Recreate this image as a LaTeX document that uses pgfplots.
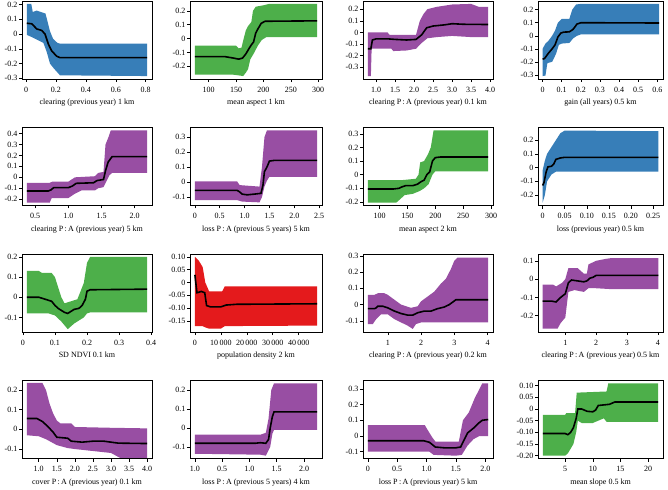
\documentclass[border=0pt]{standalone}
\usepackage{fontspec}
\setmainfont{Liberation Serif}
\usepackage{pgfplots}
\pgfplotsset{compat=1.18}
\usepgfplotslibrary{fillbetween}

\definecolor{cblue}{HTML}{377EB8}
\definecolor{cgreen}{HTML}{4DAF4A}
\definecolor{cpurple}{HTML}{984EA3}
\definecolor{cred}{HTML}{E41A1C}

\pgfplotsset{
  pd/.style={
    scale only axis, height=78pt, anchor=north west,
    axis on top, axis line style={line width=0.8pt},
    tick align=outside, xtick pos=left, ytick pos=left,
    major tick length=3pt, tick style={black,line width=0.5pt},
    scaled ticks=false,
    /pgf/number format/assume math mode=true,
    ticklabel style={font=\fontsize{8}{9}\selectfont},
    yticklabel style={inner sep=1.5pt},
    xticklabel style={yshift=-1.5pt},
    label style={font=\fontsize{8}{9}\selectfont},
    xlabel style={yshift=0pt},
  },
  c1/.style={pd, width=130pt},
  c2/.style={pd, width=132pt},
  c3/.style={pd, width=130pt},
  c4/.style={pd, width=125pt},
  pdline/.style={black, line width=1.6pt},
}

\begin{document}
\begin{tikzpicture}

% ---------- row 1 ----------
\begin{axis}[c1, at={(22pt,483pt)},
  xmin=-0.027, xmax=0.842, ymin=-0.305, ymax=0.225,
  xtick={0,0.2,0.4,0.6,0.8}, ytick={-0.3,-0.2,-0.1,0,0.1,0.2},
  xlabel={clearing (previous year) 1 km}]
\addplot[name path=u, draw=none] coordinates {(0.005,0.205)(0.035,0.205)(0.045,0.15)(0.07,0.16)(0.1,0.15)(0.13,0.14)(0.145,0.08)(0.16,0.02)(0.18,-0.03)(0.21,-0.06)(0.23,-0.065)(0.81,-0.065)};
\addplot[name path=l, draw=none] coordinates {(0.005,-0.005)(0.038,-0.02)(0.116,-0.06)(0.138,-0.12)(0.16,-0.2)(0.183,-0.23)(0.227,-0.28)(0.81,-0.285)};
\addplot[cblue] fill between[of=u and l];
\addplot[pdline] coordinates {(0.005,0.074)(0.038,0.07)(0.072,0.035)(0.105,0.025)(0.127,0.0)(0.15,-0.07)(0.172,-0.115)(0.205,-0.15)(0.227,-0.16)(0.81,-0.16)};
\end{axis}

\begin{axis}[c2, at={(190pt,483pt)},
  xmin=66, xmax=307, ymin=-0.291, ymax=0.271,
  xtick={100,150,200,250,300}, ytick={-0.2,-0.1,0,0.1,0.2},
  xlabel={mean aspect 1 km}]
\addplot[name path=u, draw=none] coordinates {(75,-0.05)(150,-0.05)(155,-0.07)(160,-0.065)(164,0.0)(168,0.06)(172,0.09)(178,0.12)(181,0.2)(186,0.23)(200,0.24)(210,0.25)(298,0.25)};
\addplot[name path=l, draw=none] coordinates {(75,-0.26)(145,-0.26)(155,-0.265)(163,-0.27)(168,-0.245)(172,-0.22)(176,-0.15)(182,-0.11)(190,-0.05)(197,-0.01)(205,0.01)(298,0.01)};
\addplot[cgreen] fill between[of=u and l];
\addplot[pdline] coordinates {(75,-0.13)(130,-0.13)(145,-0.14)(155,-0.148)(162,-0.14)(168,-0.11)(174,-0.07)(178,-0.045)(182,-0.025)(186,0.04)(190,0.07)(196,0.11)(203,0.125)(298,0.128)};
\end{axis}

\begin{axis}[c3, at={(363pt,483pt)},
  xmin=0.653, xmax=4.077, ymin=-0.40, ymax=0.27,
  xtick={1,1.5,2,2.5,3,3.5,4}, xticklabels={1.0,1.5,2.0,2.5,3.0,3.5,4.0},
  ytick={-0.3,-0.2,-0.1,0,0.1,0.2},
  xlabel={clearing P\,:\,A (previous year) 0.1 km}]
\addplot[name path=u, draw=none] coordinates {(0.78,0.0)(1.3,0.0)(1.35,-0.02)(2.05,-0.02)(2.15,0.1)(2.25,0.16)(2.35,0.2)(2.6,0.22)(3.0,0.24)(3.5,0.245)(3.7,0.22)(3.95,0.22)};
\addplot[name path=l, draw=none] coordinates {(0.78,-0.375)(0.86,-0.375)(0.88,-0.14)(1.4,-0.14)(1.45,-0.16)(1.8,-0.155)(2.05,-0.14)(2.2,-0.09)(2.35,-0.05)(2.6,-0.04)(3.0,-0.03)(3.5,-0.04)(3.95,-0.04)};
\addplot[cpurple] fill between[of=u and l];
\addplot[pdline] coordinates {(0.78,-0.14)(0.86,-0.14)(0.9,-0.065)(1.0,-0.055)(1.3,-0.055)(1.5,-0.06)(1.8,-0.065)(2.05,-0.06)(2.2,-0.02)(2.33,0.04)(2.5,0.055)(2.8,0.065)(3.0,0.075)(3.3,0.07)(3.95,0.068)};
\end{axis}

\begin{axis}[c4, at={(538pt,483pt)},
  xmin=-0.024, xmax=0.63, ymin=-0.332, ymax=0.267,
  xtick={0,0.1,0.2,0.3,0.4,0.5,0.6}, ytick={-0.3,-0.2,-0.1,0,0.1,0.2},
  xlabel={gain (all years) 0.5 km}]
\addplot[name path=u, draw=none] coordinates {(0,-0.1)(0.015,-0.06)(0.03,-0.04)(0.05,0.0)(0.065,0.04)(0.08,0.1)(0.1,0.13)(0.14,0.13)(0.155,0.2)(0.175,0.24)(0.2,0.245)(0.61,0.245)};
\addplot[name path=l, draw=none] coordinates {(0,-0.31)(0.015,-0.305)(0.025,-0.21)(0.05,-0.2)(0.07,-0.14)(0.085,-0.07)(0.1,-0.06)(0.14,-0.055)(0.16,-0.02)(0.18,0.0)(0.2,0.01)(0.61,0.01)};
\addplot[cblue] fill between[of=u and l];
\addplot[pdline] coordinates {(0,-0.18)(0.01,-0.175)(0.03,-0.135)(0.05,-0.1)(0.065,-0.07)(0.08,-0.01)(0.095,0.02)(0.11,0.028)(0.14,0.03)(0.16,0.05)(0.18,0.09)(0.2,0.1)(0.25,0.1)(0.61,0.098)};
\end{axis}

% ---------- row 2 ----------
\begin{axis}[c1, at={(22pt,356.5pt)},
  xmin=0.303, xmax=2.26, ymin=-0.258, ymax=0.456,
  xtick={0.5,1,1.5,2}, xticklabels={0.5,1.0,1.5,2.0},
  ytick={-0.2,-0.1,0,0.1,0.2,0.3,0.4},
  xlabel={clearing P\,:\,A (previous year) 5 km}]
\addplot[name path=u, draw=none] coordinates {(0.375,-0.05)(0.72,-0.05)(0.76,-0.04)(1.0,-0.04)(1.05,-0.02)(1.1,0.0)(1.4,0.01)(1.45,0.04)(1.53,0.05)(1.56,0.3)(1.6,0.36)(1.64,0.43)(2.187,0.43)};
\addplot[name path=l, draw=none] coordinates {(0.375,-0.232)(0.72,-0.232)(0.75,-0.19)(1.0,-0.19)(1.1,-0.15)(1.2,-0.12)(1.4,-0.12)(1.45,-0.1)(1.53,-0.09)(1.57,-0.04)(1.62,0.02)(1.66,0.04)(2.187,0.04)};
\addplot[cpurple] fill between[of=u and l];
\addplot[pdline] coordinates {(0.375,-0.125)(0.7,-0.125)(0.74,-0.115)(0.78,-0.095)(1.0,-0.095)(1.06,-0.08)(1.12,-0.055)(1.38,-0.05)(1.43,-0.03)(1.53,-0.02)(1.56,0.06)(1.6,0.14)(1.66,0.19)(2.187,0.19)};
\end{axis}

\begin{axis}[c2, at={(190pt,356.5pt)},
  xmin=-0.098, xmax=2.558, ymin=-0.156, ymax=0.364,
  xtick={0,0.5,1,1.5,2,2.5}, xticklabels={0,0.5,1.0,1.5,2.0,2.5},
  ytick={-0.1,0,0.1,0.2,0.3},
  xlabel={loss P\,:\,A (previous 5 years) 5 km}]
\addplot[name path=u, draw=none] coordinates {(0,0.005)(0.85,0.005)(0.9,-0.02)(1.3,-0.03)(1.35,0.1)(1.4,0.3)(1.45,0.345)(2.46,0.345)};
\addplot[name path=l, draw=none] coordinates {(0,-0.12)(0.85,-0.12)(0.95,-0.13)(1.3,-0.135)(1.35,-0.1)(1.4,-0.03)(1.45,0.01)(1.5,0.035)(2.46,0.035)};
\addplot[cpurple] fill between[of=u and l];
\addplot[pdline] coordinates {(0,-0.055)(0.85,-0.055)(0.9,-0.065)(0.95,-0.08)(1.05,-0.085)(1.2,-0.08)(1.33,-0.075)(1.37,-0.02)(1.4,0.07)(1.45,0.1)(1.5,0.14)(1.6,0.145)(2.46,0.145)};
\end{axis}

\begin{axis}[c3, at={(363pt,356.5pt)},
  xmin=70.4, xmax=303.6, ymin=-0.226, ymax=0.346,
  xtick={100,150,200,250,300}, ytick={-0.2,-0.1,0,0.1,0.2,0.3},
  xlabel={mean aspect 2 km}]
\addplot[name path=u, draw=none] coordinates {(79,-0.04)(140,-0.04)(165,-0.03)(170,0.0)(173,0.09)(180,0.1)(187,0.15)(192,0.2)(197,0.325)(295,0.325)};
\addplot[name path=l, draw=none] coordinates {(79,-0.205)(130,-0.205)(137,-0.18)(145,-0.15)(160,-0.14)(172,-0.12)(180,-0.1)(188,-0.07)(195,0.0)(200,0.025)(295,0.025)};
\addplot[cgreen] fill between[of=u and l];
\addplot[pdline] coordinates {(79,-0.105)(125,-0.105)(135,-0.1)(140,-0.09)(147,-0.08)(160,-0.08)(168,-0.07)(175,-0.05)(180,-0.04)(185,0.0)(190,0.02)(195,0.1)(200,0.125)(210,0.13)(295,0.13)};
\end{axis}

\begin{axis}[c4, at={(538pt,356.5pt)},
  xmin=-0.0105, xmax=0.2725, ymin=-0.276, ymax=0.292,
  xtick={0,0.05,0.1,0.15,0.2,0.25}, xticklabels={0,0.05,0.10,0.15,0.20,0.25},
  ytick={-0.2,-0.1,0,0.1,0.2},
  xlabel={loss (previous year) 0.5 km}]
\addplot[name path=u, draw=none] coordinates {(0,-0.02)(0.005,0.05)(0.01,0.1)(0.02,0.15)(0.03,0.2)(0.04,0.25)(0.05,0.27)(0.262,0.265)};
\addplot[name path=l, draw=none] coordinates {(0,-0.255)(0.005,-0.2)(0.01,-0.1)(0.02,-0.05)(0.03,-0.03)(0.262,-0.03)};
\addplot[cblue] fill between[of=u and l];
\addplot[pdline] coordinates {(0,-0.13)(0.003,-0.11)(0.008,-0.03)(0.012,0.005)(0.02,0.01)(0.025,0.025)(0.03,0.06)(0.04,0.07)(0.05,0.075)(0.262,0.075)};
\end{axis}

% ---------- row 3 ----------
\begin{axis}[c1, at={(22pt,230pt)},
  xmin=-0.0025, xmax=0.4025, ymin=-0.172, ymax=0.214,
  xtick={0,0.1,0.2,0.3,0.4}, ytick={-0.1,0,0.1,0.2},
  xlabel={SD NDVI 0.1 km}]
\addplot[name path=u, draw=none] coordinates {(0.0125,0.13)(0.05,0.13)(0.06,0.12)(0.09,0.12)(0.1,0.1)(0.11,0.05)(0.12,0.0)(0.13,-0.03)(0.15,-0.02)(0.17,-0.01)(0.18,0.03)(0.19,0.07)(0.2,0.17)(0.21,0.2)(0.3875,0.2)};
\addplot[name path=l, draw=none] coordinates {(0.0125,-0.08)(0.08,-0.08)(0.1,-0.09)(0.12,-0.12)(0.14,-0.158)(0.16,-0.13)(0.18,-0.11)(0.19,-0.1)(0.2,-0.08)(0.21,-0.075)(0.3875,-0.075)};
\addplot[cgreen] fill between[of=u and l];
\addplot[pdline] coordinates {(0.0125,0.0)(0.05,0.0)(0.06,-0.005)(0.08,-0.015)(0.09,-0.02)(0.1,-0.04)(0.11,-0.055)(0.12,-0.065)(0.13,-0.075)(0.14,-0.08)(0.15,-0.07)(0.16,-0.06)(0.175,-0.055)(0.185,-0.04)(0.195,-0.01)(0.2,0.03)(0.21,0.037)(0.3875,0.04)};
\end{axis}

\begin{axis}[c2, at={(190pt,230pt)},
  xmin=-1884, xmax=48984, ymin=-0.193, ymax=0.111,
  xtick={0,10000,20000,30000,40000}, xticklabels={0,10\,000,20\,000,30\,000,40\,000},
  ytick={-0.15,-0.1,-0.05,0,0.05,0.1}, yticklabels={-0.15,-0.10,-0.05,0,0.05,0.10},
  xlabel={population density 2 km}]
\addplot[name path=u, draw=none] coordinates {(0,0.1)(1500,0.085)(3000,0.06)(4000,0.0)(5500,-0.035)(10500,-0.035)(11500,-0.015)(47100,-0.015)};
\addplot[name path=l, draw=none] coordinates {(0,-0.17)(3000,-0.17)(4000,-0.175)(5500,-0.18)(10000,-0.18)(11500,-0.17)(47100,-0.168)};
\addplot[cred] fill between[of=u and l];
\addplot[pdline] coordinates {(0,0.03)(800,-0.04)(2500,-0.035)(3800,-0.04)(4500,-0.09)(6000,-0.095)(10000,-0.095)(12000,-0.088)(16000,-0.085)(47100,-0.083)};
\end{axis}

\begin{axis}[c3, at={(363pt,230pt)},
  xmin=0.255, xmax=4.165, ymin=-0.169, ymax=0.312,
  xtick={1,2,3,4}, ytick={-0.1,0,0.1,0.2,0.3},
  xlabel={clearing P\,:\,A (previous year) 0.2 km}]
\addplot[name path=u, draw=none] coordinates {(0.4,0.06)(0.6,0.06)(0.7,0.07)(0.9,0.07)(1.0,0.06)(1.2,0.03)(1.4,0.0)(1.7,-0.02)(1.9,-0.01)(2.0,0.02)(2.2,0.05)(2.4,0.08)(2.6,0.13)(2.75,0.16)(2.9,0.22)(3.0,0.27)(3.1,0.29)(4.02,0.29)};
\addplot[name path=l, draw=none] coordinates {(0.4,-0.12)(0.55,-0.12)(0.65,-0.09)(0.8,-0.06)(1.0,-0.06)(1.2,-0.09)(1.4,-0.11)(1.6,-0.13)(1.75,-0.15)(1.85,-0.12)(2.0,-0.11)(4.02,-0.11)};
\addplot[cpurple] fill between[of=u and l];
\addplot[pdline] coordinates {(0.4,-0.025)(0.6,-0.025)(0.65,-0.02)(0.7,-0.01)(0.85,-0.01)(1.0,-0.02)(1.2,-0.04)(1.4,-0.055)(1.6,-0.065)(1.75,-0.065)(1.9,-0.05)(2.1,-0.04)(2.3,-0.04)(2.5,-0.025)(2.7,-0.015)(2.85,0.0)(2.95,0.015)(3.05,0.03)(4.02,0.03)};
\end{axis}

\begin{axis}[c4, at={(538pt,230pt)},
  xmin=0.114, xmax=4.17, ymin=-0.289, ymax=0.137,
  xtick={1,2,3,4}, ytick={-0.2,-0.1,0,0.1},
  xlabel={clearing P\,:\,A (previous year) 0.5 km}]
\addplot[name path=u, draw=none] coordinates {(0.264,-0.03)(0.6,-0.03)(0.7,-0.04)(0.9,-0.02)(1.0,0.0)(1.1,0.06)(1.4,0.06)(1.6,0.03)(1.7,0.03)(1.75,0.08)(2.0,0.1)(2.3,0.11)(2.5,0.115)(4.02,0.115)};
\addplot[name path=l, draw=none] coordinates {(0.264,-0.27)(0.75,-0.27)(0.85,-0.24)(1.0,-0.21)(1.1,-0.07)(1.3,-0.06)(1.6,-0.07)(1.75,-0.05)(2.0,-0.05)(2.5,-0.055)(4.02,-0.055)};
\addplot[cpurple] fill between[of=u and l];
\addplot[pdline] coordinates {(0.264,-0.12)(0.55,-0.12)(0.7,-0.125)(0.85,-0.1)(1.0,-0.08)(1.1,-0.02)(1.2,-0.005)(1.4,-0.01)(1.6,-0.015)(1.7,-0.01)(1.8,0.005)(1.9,0.01)(2.0,0.02)(4.02,0.02)};
\end{axis}

% ---------- row 4 ----------
\begin{axis}[c1, at={(22pt,103.5pt)},
  xmin=0.537, xmax=4.133, ymin=-0.148, ymax=0.248,
  xtick={1,1.5,2,2.5,3,3.5,4}, xticklabels={1.0,1.5,2.0,2.5,3.0,3.5,4.0},
  ytick={-0.1,0,0.1,0.2},
  xlabel={cover P\,:\,A (previous year) 0.1 km}]
\addplot[name path=u, draw=none] coordinates {(0.67,0.236)(1.1,0.236)(1.2,0.2)(1.3,0.13)(1.4,0.08)(1.5,0.045)(1.6,0.03)(1.9,0.03)(2.0,0.012)(3.0,0.008)(4.0,0.005)};
\addplot[name path=l, draw=none] coordinates {(0.67,-0.03)(1.0,-0.035)(1.2,-0.05)(1.5,-0.08)(1.8,-0.095)(2.0,-0.1)(2.5,-0.11)(3.0,-0.12)(3.2,-0.14)(3.4,-0.16)(4.0,-0.16)};
\addplot[cpurple] fill between[of=u and l];
\addplot[pdline] coordinates {(0.67,0.055)(0.95,0.055)(1.1,0.04)(1.25,0.015)(1.4,-0.015)(1.5,-0.04)(1.8,-0.045)(1.9,-0.06)(2.2,-0.065)(2.5,-0.06)(2.8,-0.06)(3.2,-0.07)(4.0,-0.072)};
\end{axis}

\begin{axis}[c2, at={(190pt,103.5pt)},
  xmin=-0.09, xmax=2.33, ymin=-0.16, ymax=0.25,
  xtick={0,0.5,1,1.5,2}, xticklabels={1.0,0.5,1.0,1.5,2.0},
  ytick={-0.1,0,0.1,0.2},
  xlabel={loss P\,:\,A (previous 5 years) 4 km}]
\addplot[name path=u, draw=none] coordinates {(0,-0.035)(1.2,-0.035)(1.3,-0.025)(1.35,0.05)(1.4,0.2)(1.45,0.235)(2.24,0.235)};
\addplot[name path=l, draw=none] coordinates {(0,-0.135)(1.2,-0.14)(1.3,-0.145)(1.38,-0.1)(1.42,-0.03)(1.45,-0.01)(2.24,-0.01)};
\addplot[cpurple] fill between[of=u and l];
\addplot[pdline] coordinates {(0,-0.08)(1.1,-0.08)(1.2,-0.077)(1.3,-0.08)(1.35,-0.06)(1.38,0.0)(1.42,0.06)(1.45,0.085)(2.24,0.085)};
\end{axis}

\begin{axis}[c3, at={(363pt,103.5pt)},
  xmin=-0.082, xmax=2.132, ymin=-0.143, ymax=0.353,
  xtick={0,0.5,1,1.5,2}, xticklabels={0,0.5,1.0,1.5,2.0},
  ytick={-0.1,0,0.1,0.2,0.3},
  xlabel={loss P\,:\,A (previous year) 5 km}]
\addplot[name path=u, draw=none] coordinates {(0,0.07)(0.97,0.07)(1.0,0.05)(1.05,0.02)(1.1,-0.01)(1.15,-0.035)(1.55,-0.035)(1.62,0.1)(1.72,0.15)(1.82,0.24)(1.95,0.335)(2.05,0.335)};
\addplot[name path=l, draw=none] coordinates {(0,-0.1)(1.05,-0.1)(1.12,-0.12)(1.5,-0.125)(1.6,-0.12)(1.7,-0.06)(1.8,-0.02)(1.9,0.0)(2.05,0.0)};
\addplot[cpurple] fill between[of=u and l];
\addplot[pdline] coordinates {(0,-0.03)(0.95,-0.03)(1.05,-0.04)(1.15,-0.07)(1.3,-0.075)(1.5,-0.075)(1.58,-0.07)(1.62,-0.04)(1.7,0.02)(1.8,0.05)(1.88,0.08)(1.95,0.1)(2.05,0.105)};
\end{axis}

\begin{axis}[c4, at={(538pt,103.5pt)},
  xmin=0.1, xmax=22.7, ymin=-0.212, ymax=0.122,
  xtick={5,10,15,20},
  ytick={-0.2,-0.15,-0.1,-0.05,0,0.05,0.1}, yticklabels={-0.20,-0.15,-0.10,-0.05,0,0.05,0.10},
  xlabel={mean slope 0.5 km}]
\addplot[name path=u, draw=none] coordinates {(1.0,-0.025)(5,-0.025)(5.2,-0.018)(6.8,-0.018)(7.1,0.07)(12.5,0.075)(12.8,0.11)(21.8,0.11)};
\addplot[name path=l, draw=none] coordinates {(1.0,-0.2)(5,-0.2)(5.5,-0.19)(6.5,-0.15)(7,-0.1)(7.3,-0.05)(8,-0.06)(10,-0.06)(11,-0.05)(12,-0.04)(12.5,-0.055)(21.8,-0.055)};
\addplot[cgreen] fill between[of=u and l];
\addplot[pdline] coordinates {(1.0,-0.105)(5,-0.105)(5.5,-0.11)(6,-0.1)(6.5,-0.08)(7,-0.04)(7.3,0.0)(8,0.0)(9,-0.01)(10,-0.012)(10.5,-0.005)(11,0.015)(13,0.02)(14,0.03)(21.8,0.03)};
\end{axis}

\path (0pt,0pt) rectangle (668pt,484pt);
\end{tikzpicture}
\end{document}
